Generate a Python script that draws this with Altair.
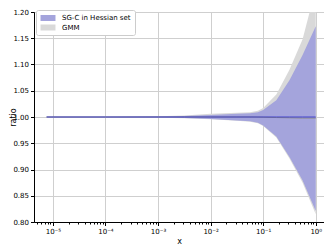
import altair as alt
import pandas as pd

# log10(x) sample positions
logx = [-5.12, -4.0, -3.0, -2.5, -2.0, -1.5, -1.25, -1.1, -1.0, -0.75, -0.5, -0.25, 0.0]

sgc_hi = [1.0005, 1.0005, 1.001, 1.002, 1.004, 1.006, 1.007, 1.009, 1.0135, 1.032, 1.070, 1.118, 1.173]
sgc_lo = [0.9995, 0.9995, 0.999, 0.998, 0.996, 0.9935, 0.992, 0.989, 0.984, 0.963, 0.924, 0.879, 0.821]
gmm_hi = [1.0006, 1.0006, 1.0012, 1.003, 1.006, 1.008, 1.009, 1.012, 1.017, 1.043, 1.090, 1.148, 1.245]
gmm_lo = [0.9994, 0.9994, 0.9988, 0.9978, 0.9955, 0.993, 0.991, 0.988, 0.983, 0.961, 0.921, 0.875, 0.815]
sgc_mid = [1.0, 1.0, 1.0, 1.0, 1.0, 1.0, 1.0, 1.0, 1.0, 1.0, 1.0, 1.0, 1.0]
gmm_mid = [1.0, 1.0, 1.0, 1.0, 1.0, 1.0, 1.0, 0.9998, 0.9995, 0.999, 0.9985, 0.998, 0.998]

series = ["SG-C in Hessian set", "GMM"]
colors = ["#a4a4dc", "#d9d9d9"]

y_ticks = [0.80, 0.85, 0.90, 0.95, 1.00, 1.05, 1.10, 1.15, 1.20]
x_major = [1e-5, 1e-4, 1e-3, 1e-2, 1e-1, 1.0]
x_minor = [k * 10.0 ** d for d in range(-6, 1) for k in range(2, 10)]
x_minor = [v for v in x_minor if 4.4e-6 <= v <= 1.43]

xv = [10.0 ** l for l in logx]
sgc = pd.DataFrame({"x": xv, "lo": sgc_lo, "hi": sgc_hi, "mid": sgc_mid, "s": series[0]})
gmm = pd.DataFrame({"x": xv, "lo": gmm_lo, "hi": gmm_hi, "mid": gmm_mid, "s": series[1]})

is_major = "abs(log(datum.value)/LN10 - round(log(datum.value)/LN10)) < 1e-6"

xscale = alt.Scale(type="log", domain=[4.37e-6, 1.436], nice=False)
yscale = alt.Scale(domain=[0.8, 1.2], nice=False, zero=False)

xaxis = alt.Axis(
    values=x_major + x_minor,
    labelExpr=is_major + " ? ['10⁻⁵','10⁻⁴','10⁻³','10⁻²','10⁻¹','10⁰'][round(log(datum.value)/LN10)+5] : ''",
    tickSize={"condition": {"test": is_major, "value": 3.5}, "value": 2},
    gridOpacity={"condition": {"test": is_major, "value": 1}, "value": 0},
    labelOverlap=False, labelFlush=False, title="x", titlePadding=3,
)
yaxis = alt.Axis(values=y_ticks, format=".2f", title="ratio", tickSize=3.5,
                 titleX=-17, labelFlush=False, labelOverlap=False, tickCount=9)


def X():
    return alt.X("x:Q", scale=xscale, axis=xaxis)


def Y(field):
    return alt.Y(field, scale=yscale, axis=yaxis)


color = alt.Color("s:N", scale=alt.Scale(domain=series, range=colors),
                  legend=alt.Legend(title=None, orient="none", legendX=2, legendY=-2,
                                    fillColor="white", strokeColor="#cccccc", padding=4,
                                    cornerRadius=2, labelFontSize=7, labelFont="DejaVu Sans",
                                    symbolType="M-2,-0.8H2V0.8H-2Z", symbolSize=56,
                                    symbolOffset=4, symbolStrokeWidth=0, rowPadding=2.5,
                                    labelOffset=10))

gmm_area = alt.Chart(gmm).mark_area(clip=True, opacity=1).encode(
    x=X(), y=Y("lo:Q"), y2="hi:Q", color=color)
sgc_area = alt.Chart(sgc).mark_area(clip=True, opacity=1).encode(
    x=X(), y=Y("lo:Q"), y2="hi:Q", color=color)
gmm_line = alt.Chart(gmm).mark_line(clip=True, color="#8a8a8a", strokeWidth=1).encode(
    x=X(), y=Y("mid:Q"))
sgc_line = alt.Chart(sgc).mark_line(clip=True, color="#2a2acc", strokeWidth=1, opacity=0.8).encode(
    x=X(), y=Y("mid:Q"))

chart = alt.layer(gmm_area, sgc_area, gmm_line, sgc_line).properties(
    width=290, height=210,
    autosize=alt.AutoSizeParams(type="none"),
    padding={"left": 26, "top": 4, "right": 0, "bottom": 26},
).configure_axis(
    labelFont="DejaVu Sans", labelFontSize=7, labelColor="black",
    titleFont="DejaVu Sans", titleFontSize=8, titleFontWeight="normal", titleColor="black",
    tickColor="black", domainColor="black", gridColor="#cfcfcf", gridWidth=1,
    labelPadding=2,
).configure_view(stroke="#888888", strokeWidth=1)

chart.save("out.html", embed_options={"renderer": "svg", "actions": False})
